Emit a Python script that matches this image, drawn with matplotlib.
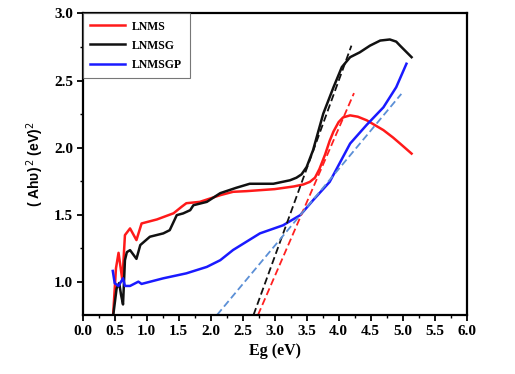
#!/usr/bin/env python3
"""Tauc plot of LNMS, LNMSG and LNMSGP with linear band-gap fits."""

import matplotlib

matplotlib.use("Agg")

import matplotlib.pyplot as plt
from matplotlib.ticker import MultipleLocator

LNMS_E = [0.475, 0.52, 0.56, 0.62, 0.66, 0.74, 0.84, 0.92, 1.16, 1.42, 1.55, 1.62, 1.83,
          2.15, 2.35, 2.56, 3.00, 3.30, 3.45, 3.55, 3.63, 3.70, 3.79, 3.86, 3.92, 4.00,
          4.07, 4.18, 4.30, 4.44, 4.70, 4.85, 4.96, 5.14]
LNMS_V = [0.75, 1.10, 1.215, 1.01, 1.347, 1.397, 1.31, 1.434, 1.464, 1.51, 1.56, 1.585,
          1.595, 1.645, 1.67, 1.675, 1.69, 1.71, 1.725, 1.744, 1.775, 1.84, 1.95, 2.05,
          2.12, 2.19, 2.225, 2.24, 2.23, 2.203, 2.13, 2.075, 2.03, 1.955]

LNMSG_E = [0.48, 0.53, 0.57, 0.60, 0.63, 0.66, 0.69, 0.74, 0.84, 0.90, 1.05, 1.26,
           1.36, 1.47, 1.57, 1.68, 1.73, 1.94, 2.15, 2.40, 2.61, 2.98, 3.24, 3.34, 3.42,
           3.50, 3.60, 3.76, 3.92, 4.05, 4.18, 4.33, 4.49, 4.65, 4.80, 4.90, 4.96, 5.14]
LNMSG_V = [0.76, 0.95, 0.99, 0.90, 0.83, 1.16, 1.22, 1.235, 1.17, 1.273, 1.335, 1.36,
           1.384, 1.496, 1.509, 1.533, 1.57, 1.595, 1.66, 1.70, 1.73, 1.73, 1.756, 1.775,
           1.80, 1.855, 1.98, 2.253, 2.45, 2.60, 2.674, 2.71, 2.76, 2.798, 2.806, 2.79,
           2.76, 2.674]

LNMSGP_E = [0.47, 0.50, 0.56, 0.63, 0.66, 0.74, 0.87, 0.92, 1.26, 1.62, 1.94, 2.15,
            2.35, 2.77, 3.13, 3.40, 3.60, 3.86, 4.18, 4.44, 4.70, 4.90, 5.06]
LNMSGP_V = [1.08, 0.988, 0.968, 1.025, 0.968, 0.968, 1.0, 0.983, 1.025, 1.062, 1.11, 1.16,
            1.236, 1.36, 1.42, 1.496, 1.607, 1.744, 2.03, 2.17, 2.30, 2.45, 2.625]

# Linear extrapolations (start, end)
FIT_LNMS_E = [2.74, 4.24]
FIT_LNMS_V = [0.752, 2.406]
FIT_LNMSG_E = [2.67, 4.20]
FIT_LNMSG_V = [0.752, 2.76]
FIT_LNMSGP_E = [2.10, 4.98]
FIT_LNMSGP_V = [0.752, 2.40]

SERIF = "Liberation Serif"
SANS = "Liberation Sans"


def main() -> None:
    fig = plt.figure(figsize=(5.15, 3.74), dpi=100)
    ax = fig.add_axes([0.1606, 0.158, 0.7454, 0.806])

    ax.plot(LNMS_E, LNMS_V, color="#ff1a1a", lw=1.8, label="LNMS")
    ax.plot(LNMSG_E, LNMSG_V, color="#111111", lw=1.8, label="LNMSG")
    ax.plot(LNMSGP_E, LNMSGP_V, color="#1a1aff", lw=1.8, label="LNMSGP")

    ax.plot(FIT_LNMS_E, FIT_LNMS_V, color="#ff2020", lw=1.3, ls=(0, (4, 2)))
    ax.plot(FIT_LNMSG_E, FIT_LNMSG_V, color="#111111", lw=1.3, ls=(0, (4, 2)))
    ax.plot(FIT_LNMSGP_E, FIT_LNMSGP_V, color="#5b8fd6", lw=1.3, ls=(0, (4, 2)))

    ax.set_xlim(0, 6.0)
    ax.set_ylim(0.752, 3.0)
    ax.xaxis.set_major_locator(MultipleLocator(0.5))
    ax.xaxis.set_minor_locator(MultipleLocator(0.25))
    ax.yaxis.set_major_locator(MultipleLocator(0.5))
    ax.yaxis.set_minor_locator(MultipleLocator(0.25))
    ax.tick_params(which="major", direction="out", length=4, width=1.3, pad=3)
    ax.tick_params(which="minor", direction="out", length=2.5, width=1.0)
    for spine in ax.spines.values():
        spine.set_linewidth(1.6)

    for lab in ax.get_xticklabels() + ax.get_yticklabels():
        lab.set_fontfamily(SERIF)
        lab.set_fontweight("bold")
        lab.set_fontsize(11)

    ax.set_xlabel("Eg (eV)", fontfamily=SERIF, fontweight="bold", fontsize=11.5, labelpad=4)
    ax.set_ylabel("( Ahυ)$^{\\,2}$ (eV)$^{2}$", fontfamily=SANS, fontweight="bold",
                  fontsize=10, labelpad=6)

    leg = ax.legend(loc="upper left", borderaxespad=0, fancybox=False,
                    prop={"family": SERIF, "weight": "bold", "size": 8.5},
                    handlelength=3.0, handletextpad=0.6, borderpad=0.6,
                    labelspacing=0.6)
    leg.get_frame().set_edgecolor("#555555")
    leg.get_frame().set_linewidth(0.8)

    fig.savefig("out.png", dpi=100)
    plt.close(fig)


if __name__ == "__main__":
    main()
